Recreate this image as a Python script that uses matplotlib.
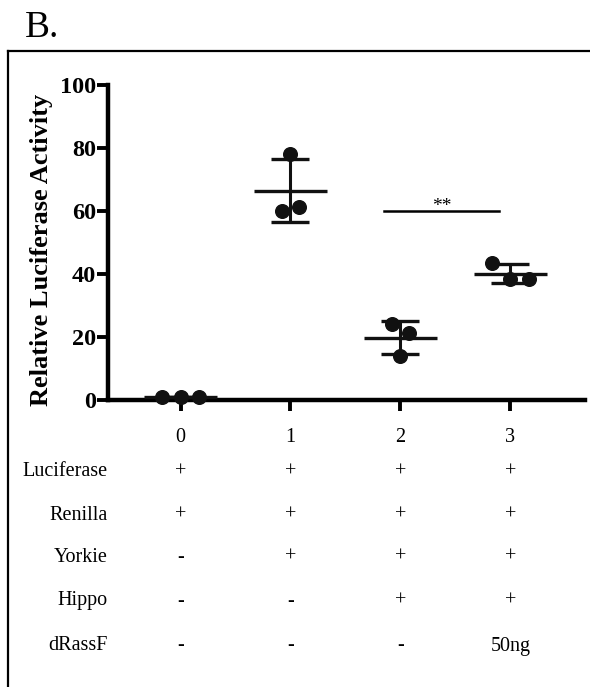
import numpy as np
import matplotlib
matplotlib.use("Agg")
from matplotlib import pyplot as plt
from matplotlib.lines import Line2D
from matplotlib.transforms import blended_transform_factory

plt.rcParams['font.family'] = ['Liberation Serif', 'DejaVu Serif']

# data
groups = [0, 1, 2, 3]
g0 = [0.9, 1.1, 1.0]
g1 = [78.0, 60.0, 61.3]
g2 = [24.1, 21.3, 14.0]
g3 = [43.5, 38.4, 38.4]
values = [g0, g1, g2, g3]
# horizontal scatter of the dots within each group
jitter = [[-0.17, 0.0, 0.17], [0.0, -0.08, 0.08], [-0.08, 0.08, 0.0], [-0.17, 0.0, 0.17]]

row_names = ['Luciferase', 'Renilla', 'Yorkie', 'Hippo', 'dRassF']
row_entries = [['+', '+', '+', '+'],
               ['+', '+', '+', '+'],
               ['-', '+', '+', '+'],
               ['-', '-', '+', '+'],
               ['-', '-', '-', '50ng']]
sig_pair = (2, 3)
sig_height = 60
sig_text = '**'

fig = plt.figure(figsize=(5.9, 6.87), dpi=100)
ax = fig.add_axes([108/590, 1 - 400/687, 477/590, 315/687])

for g, vals, jit in zip(groups, values, jitter):
    vals = np.array(vals)
    m = vals.mean()
    sd = vals.std(ddof=1)
    ax.plot(g + np.array(jit), vals, 'o', color='#111111', ms=9.8, clip_on=False, zorder=3)
    ax.hlines(m, g - 0.33, g + 0.33, color='#111111', lw=2.4, zorder=4)
    ax.errorbar(g, m, yerr=sd, fmt='none', ecolor='#111111', elinewidth=2.2,
                capsize=13.5, capthick=2.4, zorder=4)

# significance bar
ax.plot([sig_pair[0] - 0.15, sig_pair[1] - 0.1], [sig_height, sig_height], color='black', lw=1.8)
ax.text((sig_pair[0] + sig_pair[1]) / 2 - 0.12, sig_height - 1.2, sig_text,
        ha='center', va='bottom', fontsize=14)

ax.set_xlim(-0.66, 3.68)
ax.set_ylim(0, 100)
ax.set_yticks([0, 20, 40, 60, 80, 100])
ax.set_xticks(groups)
ax.set_xticklabels([str(g) for g in groups], fontsize=14.5)
for lab in ax.get_yticklabels():
    lab.set_fontweight('bold')
    lab.set_fontsize(17.5)
ax.tick_params(axis='y', length=8, width=2.8, pad=0.5)
ax.tick_params(axis='x', length=8, width=2.8, pad=12)
for s in ['top', 'right']:
    ax.spines[s].set_visible(False)
for s in ['left', 'bottom']:
    ax.spines[s].set_linewidth(3.2)
ax.set_ylabel('Relative Luciferase Activity', fontsize=19, fontweight='bold')
ax.yaxis.set_label_coords(-0.115, 0.476)

# condition table under the axis
trans = blended_transform_factory(ax.transData, fig.transFigure)
row_y = [472, 515, 557, 601, 646]
for name, entries, y in zip(row_names, row_entries, row_y):
    yf = 1 - y / 687
    fig.text(108/590, yf, name, ha='right', va='center', fontsize=14.5)
    for g, e in zip(groups, entries):
        ax.text(g, yf, e, transform=trans, ha='center', va='center', fontsize=14.5)

# panel frame and letter
fig.add_artist(Line2D([8/590, 1.0], [1 - 51/687, 1 - 51/687], transform=fig.transFigure, color='black', lw=1.6))
fig.add_artist(Line2D([8/590, 8/590], [1 - 51/687, 0.0], transform=fig.transFigure, color='black', lw=1.6))
fig.text(25/590, 1 - 37/687, 'B.', fontsize=27, ha='left', va='baseline')

fig.savefig('out.png', dpi=100)
